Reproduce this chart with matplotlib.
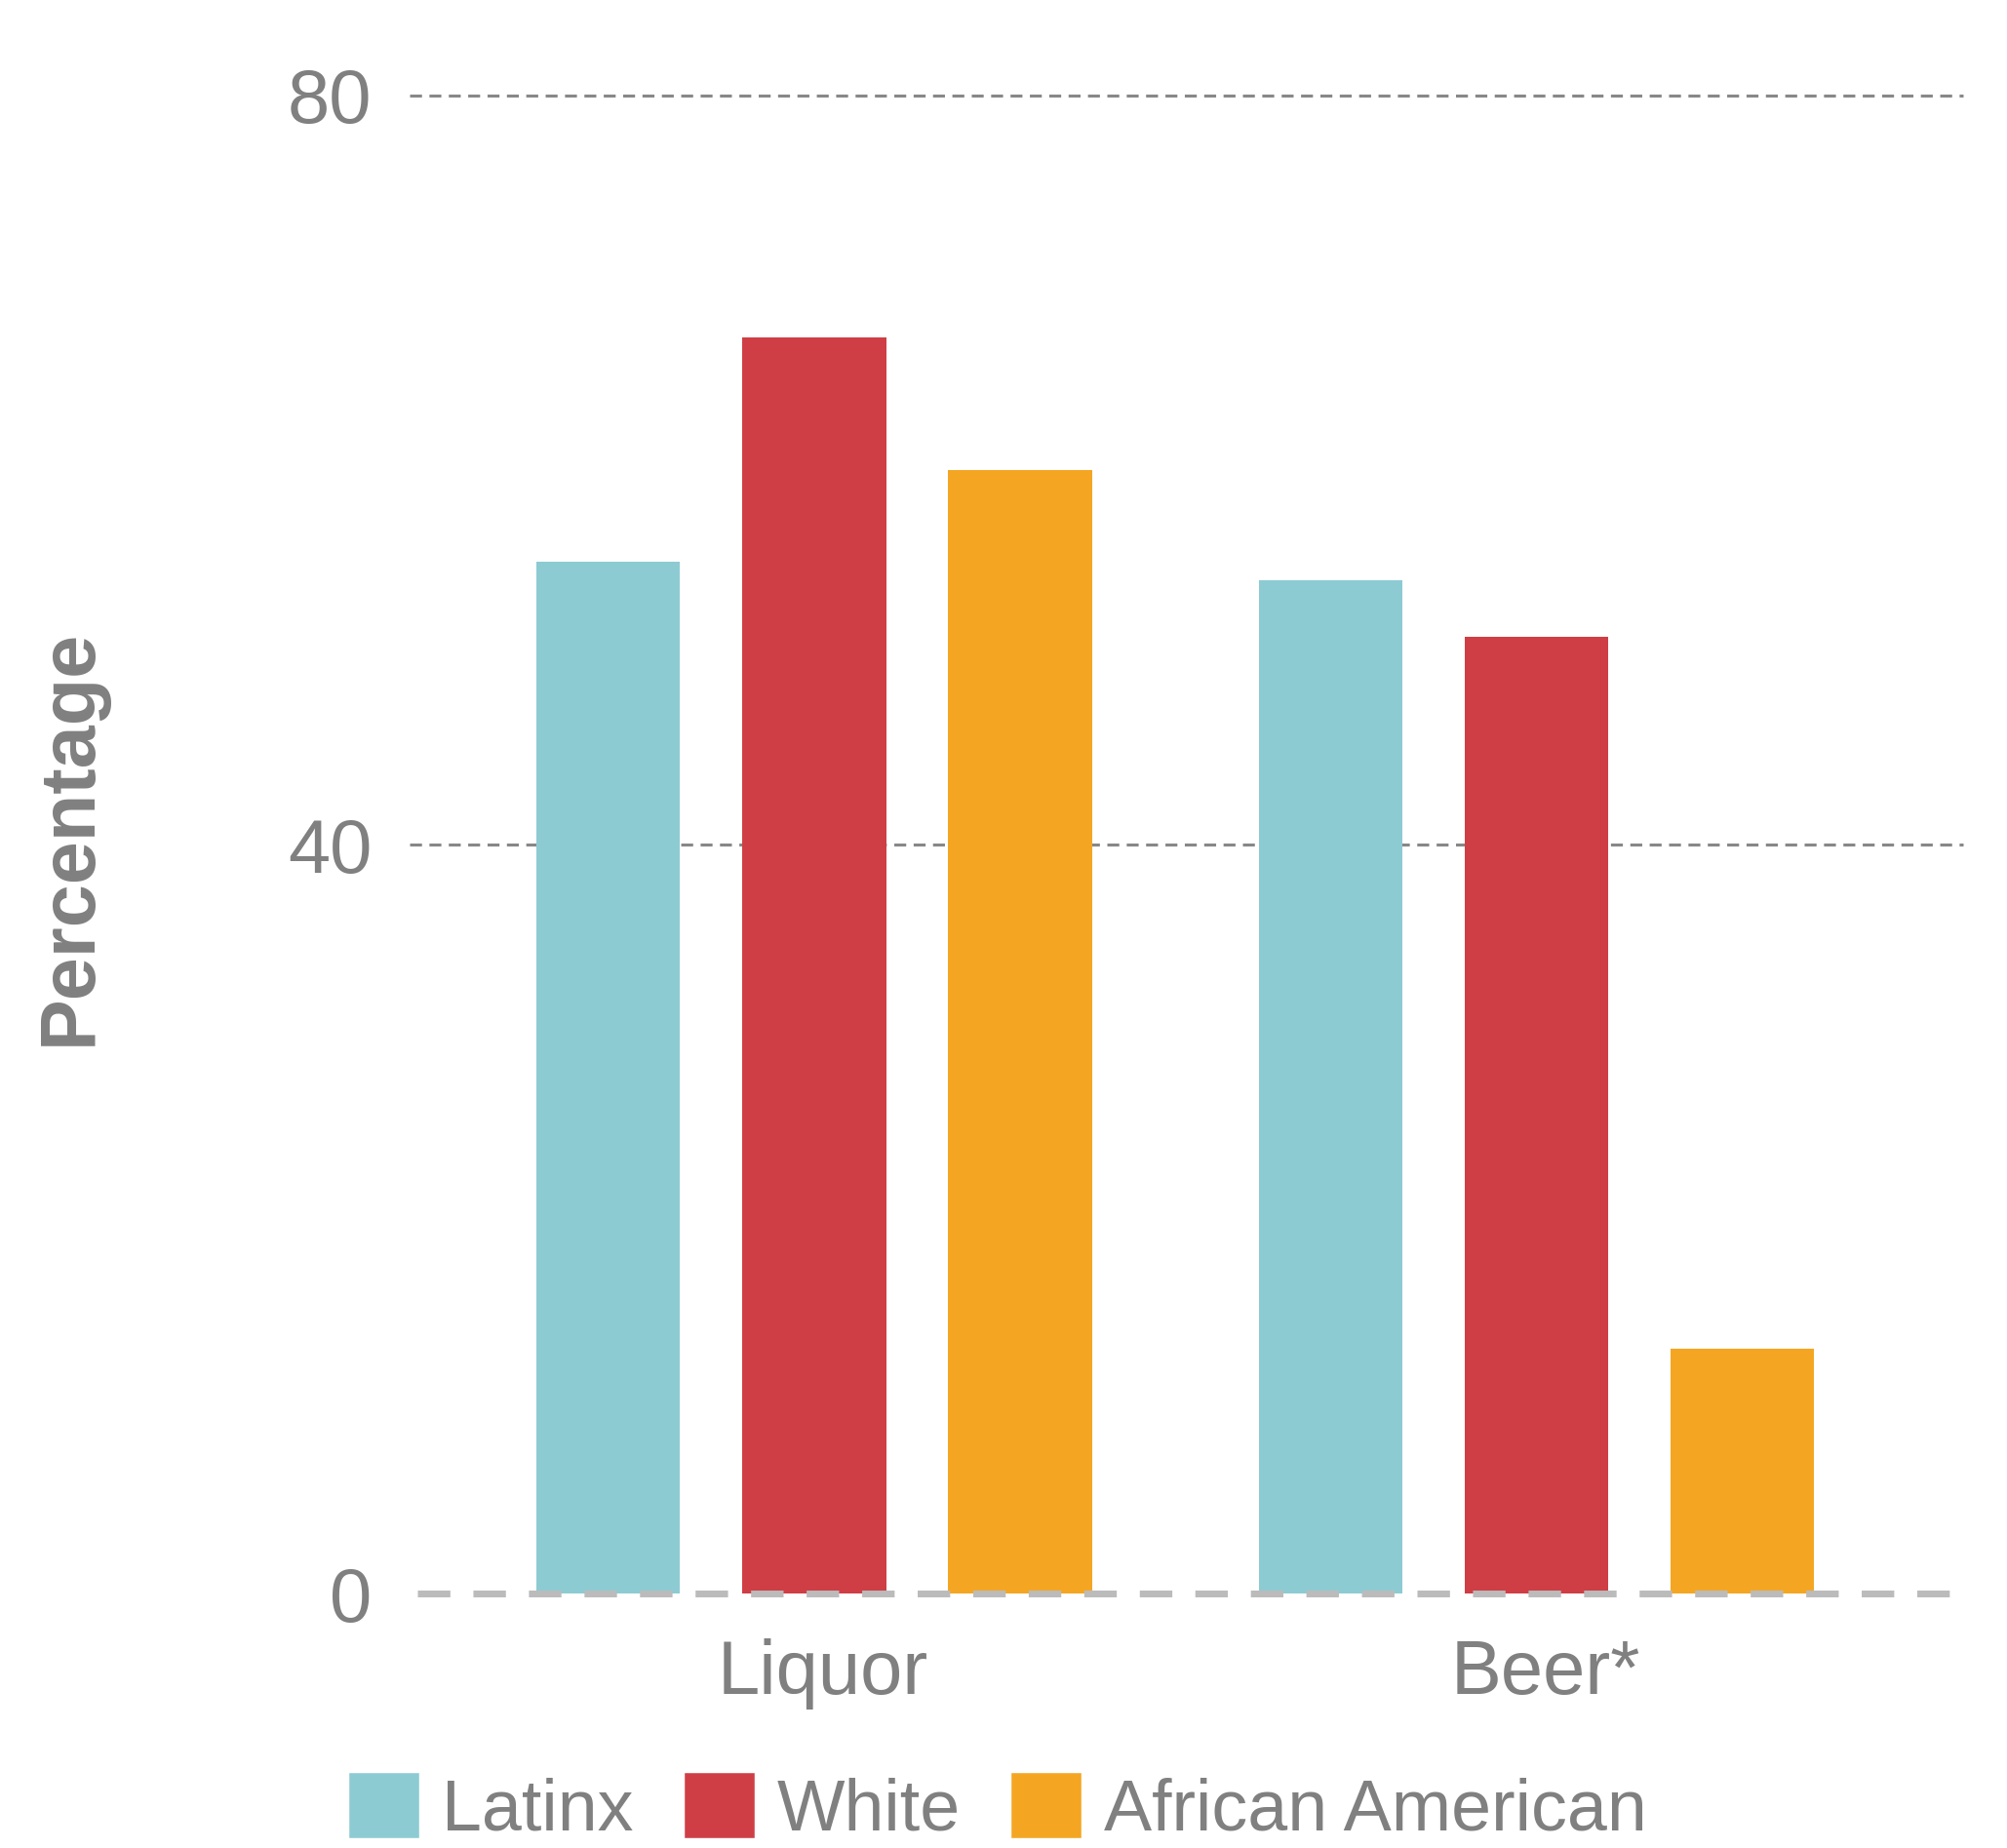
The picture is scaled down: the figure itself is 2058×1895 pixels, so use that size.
import numpy as np
import matplotlib.pyplot as plt
from matplotlib.patches import Patch
from matplotlib.transforms import ScaledTranslation

plt.rcParams['font.family'] = ['Liberation Sans', 'DejaVu Sans']

categories = ["Liquor", "Beer*"]
groups = ["Latinx", "White", "African American"]
latinx = [55.1, 54.1]
white = [67.1, 51.1]
african_american = [60.0, 13.1]
colors = ["#8DCBD3", "#CF3E45", "#F4A623"]
yticks = [0, 40, 80]

grey = "#808080"

fig = plt.figure(figsize=(20.58, 18.95), dpi=100)
ax = fig.add_axes([0.2041, 0.1377, 0.978 - 0.2041, 0.9483 - 0.1377])

x = np.arange(len(categories))
width = 0.199
offset = 0.285
for i, (vals, col) in enumerate(zip([latinx, white, african_american], colors)):
    ax.bar(x + (i - 1) * offset, vals, width, color=col, zorder=3)

ax.set_xlim(-0.56, 1.59)
ax.set_ylim(0, 80)
ax.set_yticks(yticks)
ax.set_xticks(x)
ax.set_xticklabels(categories)

for s in ax.spines.values():
    s.set_visible(False)
ax.tick_params(axis='both', length=0, labelsize=56, labelcolor=grey)
ax.tick_params(axis='y', pad=28)
ax.tick_params(axis='x', pad=33)
for lab in ax.get_xticklabels():
    lab.set_transform(lab.get_transform() + ScaledTranslation(0.09, 0, fig.dpi_scale_trans))

# gridlines: dark thin dashes, lighter thick dashes on the baseline
for t in yticks[1:]:
    ax.axhline(t, color="#888888", lw=2.2, ls=(0, (4, 2.5)), zorder=1, clip_on=False)
ax.axhline(0, xmin=0.005, color="#BBBBBB", lw=5, ls=(0, (4.8, 3.4)), zorder=4, clip_on=False)

ax.set_ylabel("Percentage", fontsize=57, fontweight="bold", color=grey)
ax.yaxis.set_label_coords(-0.195, 0.505)

handles = [Patch(facecolor=c, edgecolor=c, linewidth=4, joinstyle='round') for c in colors]
leg = fig.legend(handles, groups, loc="center", bbox_to_anchor=(0.498, 1 - 1856 / 1895),
                 ncol=3, frameon=False, fontsize=53, handlelength=0.9, handleheight=0.9,
                 handletextpad=0.35, columnspacing=0.75, borderaxespad=0, borderpad=0)
for t in leg.get_texts():
    t.set_color(grey)

fig.savefig("out.png", dpi=100)
